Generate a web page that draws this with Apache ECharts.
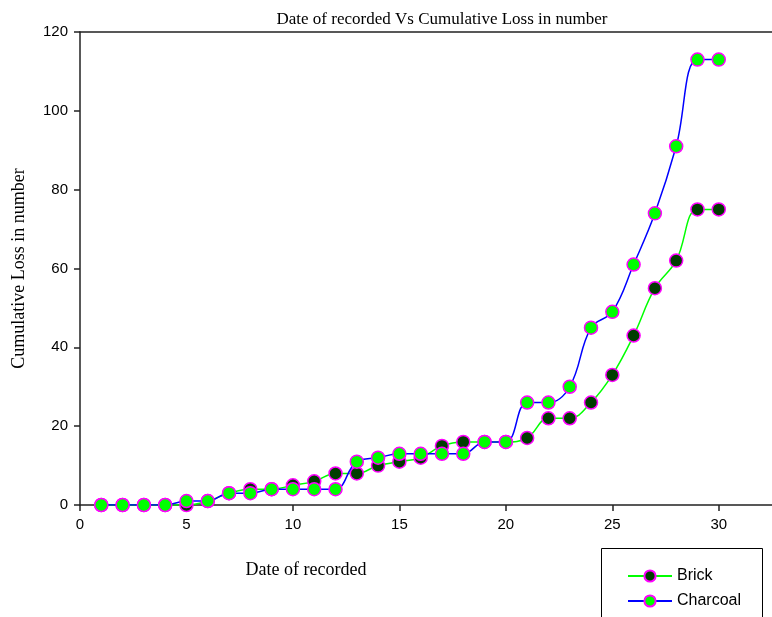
<!DOCTYPE html>
<html><head><meta charset="utf-8">
<script src="https://cdn.jsdelivr.net/npm/echarts@6/dist/echarts.min.js"></script>
<style>html,body{margin:0;padding:0;background:#fff}#c{width:772px;height:617px}</style>
</head><body><div id="c"></div>
<script>
var days = [1,2,3,4,5,6,7,8,9,10,11,12,13,14,15,16,17,18,19,20,21,22,23,24,25,26,27,28,29,30];
var brick = [0,0,0,0,0,1,3,4,4,5,6,8,8,10,11,12,15,16,16,16,17,22,22,26,33,43,55,62,75,75];
var charcoal = [0,0,0,0,1,1,3,3,4,4,4,4,11,12,13,13,13,13,16,16,26,26,30,45,49,61,74,91,113,113];
var xTicks = [0,5,10,15,20,25,30];
var yTicks = [0,20,40,60,80,100,120];

function pairs(xs, ys){ return xs.map(function(x,i){return [x, ys[i]];}); }

var chart = echarts.init(document.getElementById('c'));
var axisCol = '#222';
chart.setOption({
  animation:false,
  title:{text:'Date of recorded Vs Cumulative Loss in number', left:437, top:6, textAlign:'center',
    textStyle:{fontFamily:'Liberation Serif', fontSize:17, fontWeight:'normal', color:'#000'}},
  grid:{left:80, top:32, right:0, bottom:112},
  xAxis:[{type:'value', min:0, max:32.5, interval:5,
    name:'Date of recorded', nameLocation:'middle', nameGap:56,
    nameTextStyle:{fontFamily:'Liberation Serif', fontSize:18, color:'#000', padding:[0,240,0,0]},
    axisLine:{lineStyle:{color:axisCol, width:1.5}},
    axisTick:{show:true, length:6, lineStyle:{color:axisCol, width:1.5}, customValues:xTicks},
    axisLabel:{fontFamily:'Liberation Sans', fontSize:15, color:'#000', margin:12, customValues:xTicks},
    splitLine:{show:false}},
   {type:'value', position:'top', min:0, max:32.5,
    axisLine:{show:true, onZero:false, lineStyle:{color:axisCol, width:1.5}},
    axisTick:{show:false}, axisLabel:{show:false}, splitLine:{show:false}}],
  yAxis:{type:'value', min:0, max:120, interval:20,
    name:'Cumulative Loss in number', nameLocation:'middle', nameGap:52,
    nameTextStyle:{fontFamily:'Liberation Serif', fontSize:18, color:'#000'},
    axisLine:{show:true, lineStyle:{color:axisCol, width:1.5}},
    axisTick:{show:true, length:6, lineStyle:{color:axisCol, width:1.5}},
    axisLabel:{fontFamily:'Liberation Sans', fontSize:15, color:'#000', margin:12, customValues:yTicks},
    splitLine:{show:false}},
  legend:{orient:'vertical', left:622, top:563, itemWidth:44, itemHeight:14, itemGap:9,
    textStyle:{fontFamily:'Liberation Sans', fontSize:16, color:'#000'},
    data:['Brick','Charcoal']},
  graphic:[{type:'rect', shape:{x:601.5, y:548.5, width:161, height:80}, style:{fill:'none', stroke:'#000', lineWidth:1}}],
  series:[
    {name:'Brick', type:'line', smooth:0.4, data:pairs(days, brick), symbol:'circle', symbolSize:13,
      lineStyle:{color:'#00ff00', width:1.5}, itemStyle:{color:'#003d00', borderColor:'#ff00ff', borderWidth:1.5}, z:2},
    {name:'Charcoal', type:'line', smooth:0.4, data:pairs(days, charcoal), symbol:'circle', symbolSize:13,
      lineStyle:{color:'#0000ff', width:1.5}, itemStyle:{color:'#00ff00', borderColor:'#ff00ff', borderWidth:1.5}, z:3}
  ]
});
</script></body></html>
